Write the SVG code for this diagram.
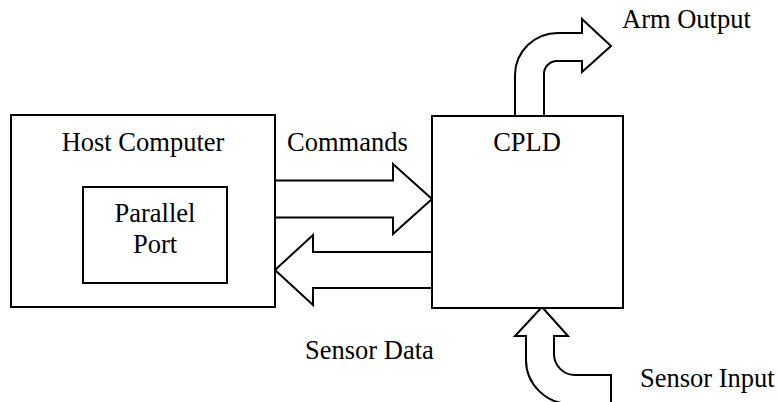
<svg xmlns="http://www.w3.org/2000/svg" width="778" height="402" viewBox="0 0 778 402">
<style>
.box{fill:#fff;stroke:#000;stroke-width:2}
.arr{fill:#fff;stroke:#000;stroke-width:2;stroke-linejoin:miter}
.t{font-family:'Liberation Serif','DejaVu Serif',serif;font-size:26.5px;fill:#000}
</style>
<rect width="778" height="402" fill="#fff"/>
<g id="connectors">
<path class="arr" d="M275,180.5 H393 V164 L432,199 L393,234 V217.5 H275"/>
<path class="arr" d="M432,252 H313 V235 L275,270 L313,305 V288 H432"/>
<path class="arr" d="M515,116 V75 A43,42 0 0 1 558,33 H582 V19 L611,46 L582,72 V61 H557 A13,13 0 0 0 544,74 V116"/>
<path class="arr" d="M611,404 V375 H575 A21,21 0 0 1 554,354 V336 H568 L542,307 L515,336 H526 V360 A45,44 0 0 0 571,404"/>
</g>
<g id="host">
<rect class="box" x="11" y="115" width="264" height="192"/>
<text class="t" x="143" y="151" text-anchor="middle">Host Computer</text>
</g>
<g id="parallel-port">
<rect class="box" x="83" y="187" width="144" height="96"/>
<text class="t" x="155" y="222" text-anchor="middle">Parallel</text>
<text class="t" x="155" y="253" text-anchor="middle">Port</text>
</g>
<g id="cpld">
<rect class="box" x="432" y="116" width="191" height="192"/>
<text class="t" x="527" y="151" text-anchor="middle">CPLD</text>
</g>
<g id="labels">
<text class="t" x="287" y="151">Commands</text>
<text class="t" x="305" y="359">Sensor Data</text>
<text class="t" x="640" y="387">Sensor Input</text>
<text class="t" x="622" y="28">Arm Output</text>
</g>
</svg>
